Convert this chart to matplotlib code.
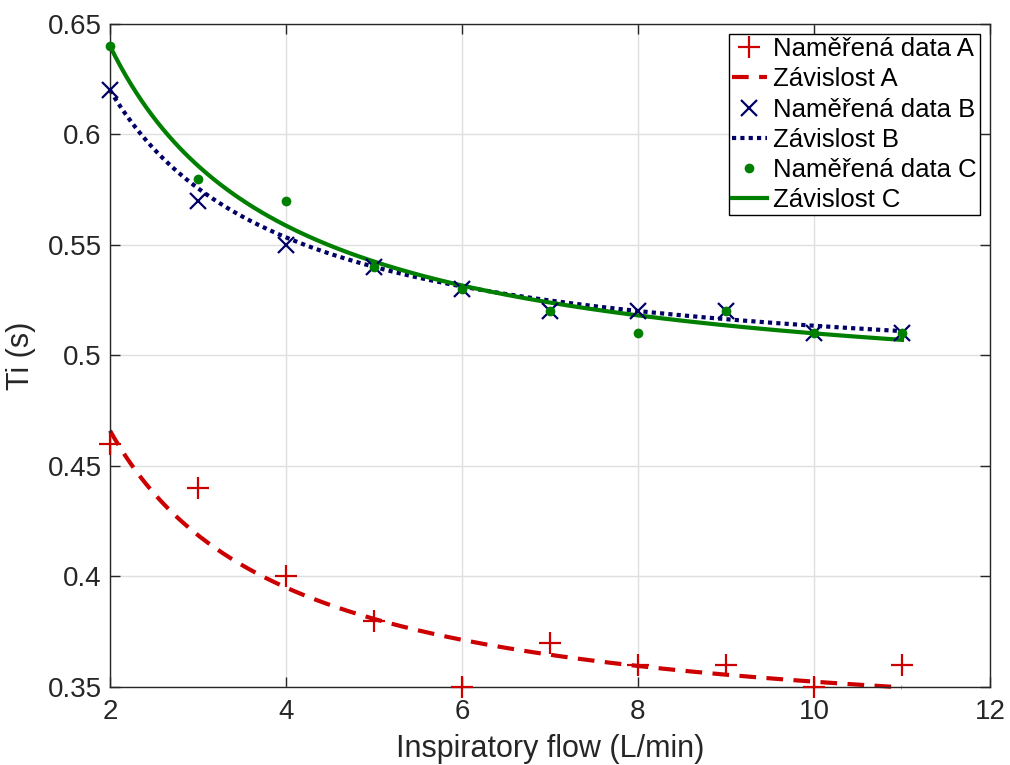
import numpy as np
import matplotlib
matplotlib.use("Agg")
import matplotlib.pyplot as plt
from matplotlib.ticker import FormatStrFormatter

plt.rcParams["font.family"] = ["Liberation Sans", "DejaVu Sans"]

# measured data
flow = [2, 3, 4, 5, 6, 7, 8, 9, 10, 11]
ti_a = [0.46, 0.44, 0.40, 0.38, 0.35, 0.37, 0.36, 0.36, 0.35, 0.36]
ti_b = [0.62, 0.57, 0.55, 0.54, 0.53, 0.52, 0.52, 0.52, 0.51, 0.51]
ti_c = [0.64, 0.58, 0.57, 0.54, 0.53, 0.52, 0.51, 0.52, 0.51, 0.51]

# fitted dependencies Ti = a + b / flow
fit_a = (0.324, 0.284)
fit_b = (0.4868, 0.2665)
fit_c = (0.4775, 0.325)

red = "#CC0000"
navy = "#000066"
green = "#007F00"
axcol = "#262626"

xf = np.linspace(2, 11, 300)

fig = plt.figure(figsize=(10.1, 7.65), dpi=100)
ax = fig.add_axes([0.1089, 0.102, 0.8713, 0.8667])

ax.plot(flow, ti_a, "+", color=red, markersize=16, markeredgewidth=1.6,
        label="Naměřená data A", clip_on=False, zorder=3)
ax.plot(xf, fit_a[0] + fit_a[1] / xf, color=red, linewidth=3,
        dashes=(4, 2.5), label="Závislost A", clip_on=False)
ax.plot(flow, ti_b, "x", color=navy, markersize=12, markeredgewidth=1.6,
        label="Naměřená data B", clip_on=False, zorder=3)
ax.plot(xf, fit_b[0] + fit_b[1] / xf, color=navy, linewidth=3,
        linestyle=(0, (1, 1)), label="Závislost B", clip_on=False)
ax.plot(flow, ti_c, "o", color=green, markersize=7, markeredgewidth=0,
        label="Naměřená data C", clip_on=False, zorder=3)
ax.plot(xf, fit_c[0] + fit_c[1] / xf, color=green, linewidth=3,
        label="Závislost C", clip_on=False)

ax.set_xlim(2, 12)
ax.set_ylim(0.35, 0.65)
ax.set_xticks([2, 4, 6, 8, 10, 12])
ax.set_yticks([0.35, 0.4, 0.45, 0.5, 0.55, 0.6, 0.65])
ax.yaxis.set_major_formatter(FormatStrFormatter("%g"))
ax.grid(True, color="#DFDFDF", linewidth=1)
ax.set_axisbelow(True)
for s in ax.spines.values():
    s.set_color(axcol)
    s.set_linewidth(1)
ax.tick_params(direction="in", length=7, width=1, colors=axcol,
               labelsize=20, top=True, right=True)
ax.tick_params(axis="x", pad=9)
ax.tick_params(axis="y", pad=6)
ax.set_xlabel("Inspiratory flow (L/min)", fontsize=22, color=axcol, labelpad=6)
ax.set_ylabel("Ti (s)", fontsize=22, color=axcol, labelpad=8)

leg = ax.legend(loc="upper right", fontsize=18.5, frameon=True, fancybox=False,
                edgecolor="black", framealpha=1, borderpad=0.12,
                labelspacing=0.24, handlelength=1.35, handletextpad=0.25,
                borderaxespad=0.4)
leg.get_frame().set_linewidth(1)

fig.savefig("out.png", dpi=100)
